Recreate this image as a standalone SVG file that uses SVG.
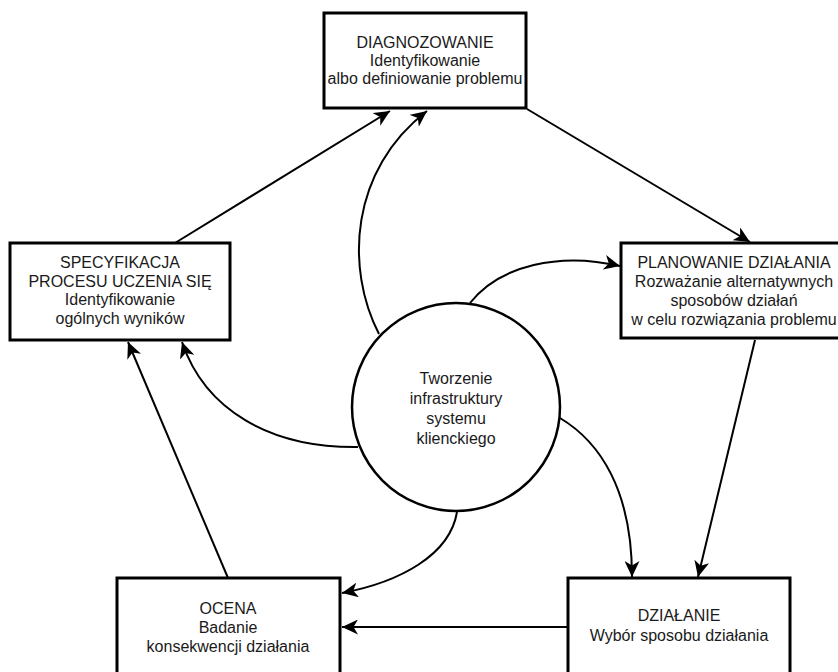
<svg xmlns="http://www.w3.org/2000/svg" width="838" height="672" viewBox="0 0 838 672">
<defs>
<style>
.box{fill:#fff;stroke:#000;stroke-width:3}
.circ{fill:#fff;stroke:#000;stroke-width:2.5}
.t{font-family:"Liberation Sans",Arial,sans-serif;font-size:16px;fill:#1a1a1a;text-anchor:middle}
.c{fill:none;stroke:#000;stroke-width:2;marker-end:url(#arr)}
</style>
<marker id="arr" markerUnits="userSpaceOnUse" markerWidth="17" markerHeight="15" viewBox="0 0 17 15" refX="16" refY="7.5" orient="auto">
<path d="M0,0 L16,7.5 L0,15 L4.5,7.5 Z" fill="#000"/>
</marker>
</defs>
<rect width="838" height="672" fill="#fff"/>
<g id="connectors">
<path class="c" d="M175,243 L390,111"/>
<path class="c" d="M379,334 C345,268 350,170 427,111"/>
<path class="c" d="M527,109 L750,242"/>
<path class="c" d="M470,303 C500,265 560,252 620,266"/>
<path class="c" d="M755,340 L698,577"/>
<path class="c" d="M560,418 C600,442 632,490 632,577"/>
<path class="c" d="M568,627 L342,627"/>
<path class="c" d="M457,512 C450,555 400,582 342,593"/>
<path class="c" d="M228,578 L128,342"/>
<path class="c" d="M358,447 C270,448 205,410 182,342"/>
</g>
<g id="diagnozowanie">
<rect class="box" x="324" y="13" width="202" height="95"/>
<text class="t" x="425" y="48">DIAGNOZOWANIE</text>
<text class="t" x="425" y="66">Identyfikowanie</text>
<text class="t" x="425" y="84">albo definiowanie problemu</text>
</g>
<g id="planowanie">
<rect class="box" x="621" y="243" width="226" height="95"/>
<text class="t" x="734" y="268">PLANOWANIE DZIAŁANIA</text>
<text class="t" x="734" y="287">Rozważanie alternatywnych</text>
<text class="t" x="734" y="306">sposobów działań</text>
<text class="t" x="734" y="325">w celu rozwiązania problemu</text>
</g>
<g id="specyfikacja">
<rect class="box" x="10" y="243" width="220" height="97"/>
<text class="t" x="120" y="268">SPECYFIKACJA</text>
<text class="t" x="120" y="287">PROCESU UCZENIA SIĘ</text>
<text class="t" x="120" y="305">Identyfikowanie</text>
<text class="t" x="120" y="324">ogólnych wyników</text>
</g>
<g id="ocena">
<rect class="box" x="117" y="578" width="223" height="110"/>
<text class="t" x="228" y="614">OCENA</text>
<text class="t" x="228" y="633">Badanie</text>
<text class="t" x="228" y="652">konsekwencji działania</text>
</g>
<g id="dzialanie">
<rect class="box" x="568" y="578" width="222" height="110"/>
<text class="t" x="679" y="621">DZIAŁANIE</text>
<text class="t" x="679" y="641">Wybór sposobu działania</text>
</g>
<g id="tworzenie">
<circle class="circ" cx="456" cy="407" r="104"/>
<text class="t" x="456" y="384">Tworzenie</text>
<text class="t" x="456" y="404">infrastruktury</text>
<text class="t" x="456" y="424">systemu</text>
<text class="t" x="456" y="444">klienckiego</text>
</g>
</svg>
